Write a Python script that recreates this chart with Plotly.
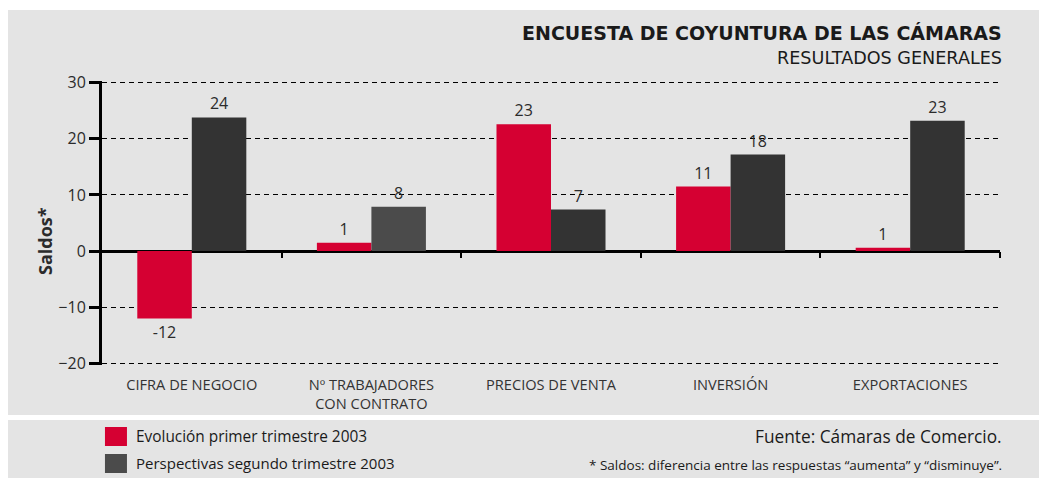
import plotly.graph_objects as go

categories = ["CIFRA DE NEGOCIO", "Nº TRABAJADORES<br>CON CONTRATO", "PRECIOS DE VENTA", "INVERSIÓN", "EXPORTACIONES"]
evolucion = [-12, 1.5, 22.6, 11.5, 0.6]
evolucion_labels = ["-12", "1", "23", "11", "1"]
perspectivas = [23.8, 7.9, 7.4, 17.2, 23.2]
perspectivas_labels = ["24", "8", "7", "18", "23"]
series_names = ["Evolución primer trimestre 2003", "Perspectivas segundo trimestre 2003"]
y_ticks = [-20, -10, 0, 10, 20, 30]

RED = "#d50032"
DARK = "#333333"
DARK2 = "#4b4b4b"
GRAY_BG = "#e4e4e4"
TXT = "#2b2b2b"
FONT = "'Open Sans', Lato, sans-serif"
WIDE = "'DejaVu Sans', 'Open Sans', sans-serif"

ymin, ymax = -20.3, 30.3
x_idx = list(range(len(categories)))

fig = go.Figure()
fig.add_trace(go.Bar(
    x=x_idx, y=evolucion, name=series_names[0], marker_color=RED, marker_line_width=0,
    text=evolucion_labels, textposition="outside", textfont=dict(size=16, color=TXT, family=FONT),
    cliponaxis=False, showlegend=False))
dark_colors = [DARK2 if i == 1 else DARK for i in x_idx]
fig.add_trace(go.Bar(
    x=x_idx, y=perspectivas, name=series_names[1], marker_color=dark_colors, marker_line_width=0,
    text=perspectivas_labels, textposition="outside", textfont=dict(size=16, color=TXT, family=FONT),
    cliponaxis=False, showlegend=False))

# boundary ticks on the zero line (secondary axis placed at y=0)
fig.add_trace(go.Scatter(x=[], y=[], xaxis="x2", showlegend=False))

zero_pos = (0 - ymin) / (ymax - ymin)

shapes = [
    dict(type="rect", xref="paper", yref="paper", x0=-0.1058, x1=1.06, y0=-0.1761, y1=1.25,
         fillcolor=GRAY_BG, line_width=0, layer="below"),
    dict(type="rect", xref="paper", yref="paper", x0=-0.1058, x1=1.06, y0=-0.42, y1=-0.1937,
         fillcolor=GRAY_BG, line_width=0, layer="below"),
    # legend swatches
    dict(type="rect", xref="paper", yref="paper", x0=0.0033, x1=0.0278, y0=-0.2852, y1=-0.2183,
         fillcolor=RED, line_width=0),
    dict(type="rect", xref="paper", yref="paper", x0=0.0033, x1=0.0278, y0=-0.3803, y1=-0.3134,
         fillcolor=DARK2, line_width=0),
]

annotations = [
    dict(text="<b>ENCUESTA DE COYUNTURA DE LAS CÁMARAS</b>", xref="paper", yref="paper", x=1.004, y=1.169,
         xanchor="right", yanchor="middle", showarrow=False, font=dict(size=19, color="#1a1a1a", family=WIDE)),
    dict(text="RESULTADOS GENERALES", xref="paper", yref="paper", x=1.004, y=1.081,
         xanchor="right", yanchor="middle", showarrow=False, font=dict(size=17.6, color="#1a1a1a", family=WIDE)),
    dict(text="<b>Saldos*</b>", xref="paper", yref="paper", x=-0.0635, y=0.4366, textangle=-90,
         xanchor="center", yanchor="middle", showarrow=False, font=dict(size=18, color=TXT, family=FONT)),
    dict(text=series_names[0], xref="paper", yref="paper", x=0.0356, y=-0.2535,
         xanchor="left", yanchor="middle", showarrow=False, font=dict(size=15.4, color="#1a1a1a", family=FONT)),
    dict(text=series_names[1], xref="paper", yref="paper", x=0.0356, y=-0.3451,
         xanchor="left", yanchor="middle", showarrow=False, font=dict(size=15, color="#1a1a1a", family=FONT)),
    dict(text="Fuente: Cámaras de Comercio.", xref="paper", yref="paper", x=1.004, y=-0.2535,
         xanchor="right", yanchor="middle", showarrow=False, font=dict(size=17.3, color="#1a1a1a", family=FONT)),
    dict(text="* Saldos: diferencia entre las respuestas “aumenta” y “disminuye”.", xref="paper", yref="paper",
         x=1.004, y=-0.3521, xanchor="right", yanchor="middle", showarrow=False,
         font=dict(size=13.5, color="#1a1a1a", family=FONT)),
]

fig.update_layout(
    width=1039, height=470,
    margin=dict(l=94, r=47, t=73, b=113),
    paper_bgcolor="white", plot_bgcolor="rgba(0,0,0,0)",
    barmode="group", bargap=0.393, bargroupgap=0,
    font=dict(family=FONT, color=TXT),
    xaxis=dict(
        tickmode="array", tickvals=x_idx, ticktext=categories, range=[-0.5, len(categories) - 0.5],
        showgrid=False, zeroline=False, showline=False, ticks="",
        tickfont=dict(size=14.6, color="#333333", family=FONT), ticklabelstandoff=9,
    ),
    xaxis2=dict(
        overlaying="x", anchor="free", position=zero_pos, range=[-0.5, len(categories) - 0.5],
        tickmode="array", tickvals=[i + 0.5 for i in x_idx], showticklabels=False,
        ticks="outside", ticklen=6, tickwidth=2, tickcolor="black",
        showgrid=False, zeroline=False, showline=False,
    ),
    yaxis=dict(
        range=[ymin, ymax], tickmode="array", tickvals=y_ticks,
        showgrid=True, gridcolor="black", gridwidth=1, griddash="5px,4px",
        zeroline=True, zerolinecolor="black", zerolinewidth=3,
        showline=True, linecolor="black", linewidth=3,
        ticks="outside", ticklen=10, tickwidth=2.5, tickcolor="black",
        tickfont=dict(size=16, color=TXT, family=FONT),
    ),
    shapes=shapes,
    annotations=annotations,
)

fig.write_html("out.html")
